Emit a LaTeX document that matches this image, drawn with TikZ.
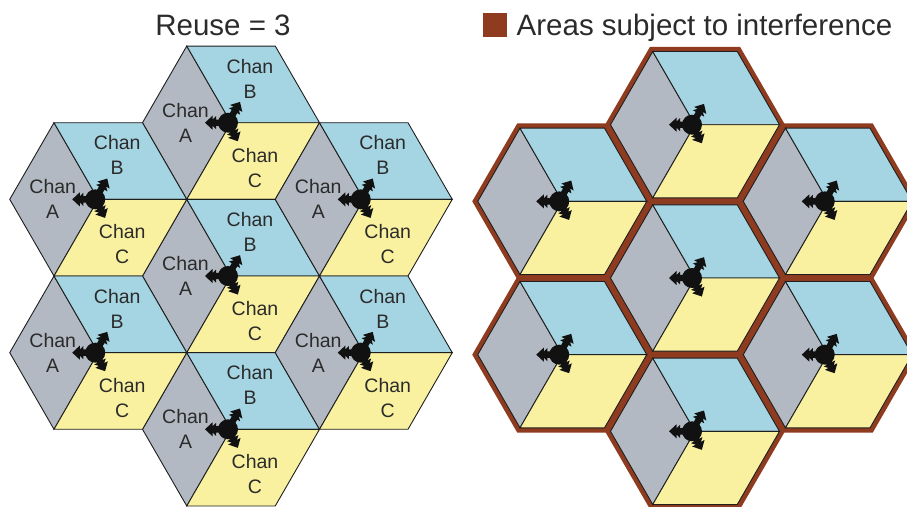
\documentclass[tikz,border=0pt]{standalone}
\usepackage{fontspec}
\setmainfont{Liberation Sans}
\usetikzlibrary{arrows.meta}
\definecolor{cgray}{HTML}{B3B9C2}
\definecolor{cblue}{HTML}{A5D4E2}
\definecolor{cyellow}{HTML}{F9F1A0}
\definecolor{cbrown}{HTML}{8E3B1F}
\definecolor{ctext}{HTML}{2B2B2B}
\definecolor{cline}{HTML}{1E1E1E}
\definecolor{cant}{HTML}{111111}

\newcommand{\hexcell}[3]{%
  \pgfmathsetmacro{\hh}{#3*0.8660254}%
  \pgfmathsetmacro{\hr}{#3/2}%
  \filldraw[cellline, fill=cgray] (#1,#2) -- ++(-\hr,-\hh) -- ++(-\hr,\hh) -- ++(\hr,\hh) -- cycle;
  \filldraw[cellline, fill=cblue] (#1,#2) -- ++(#3,0) -- ++(-\hr,-\hh) -- ++(-#3,0) -- cycle;
  \filldraw[cellline, fill=cyellow] (#1,#2) -- ++(-\hr,\hh) -- ++(#3,0) -- ++(\hr,-\hh) -- cycle;
}
\newcommand{\brownhex}[2]{%
  \filldraw[cbrown, line width=2.6pt, line join=miter] (#1,#2) ++(-88.5,0) -- ++(44.25,-76.64) -- ++(88.5,0) -- ++(44.25,76.64) -- ++(-44.25,76.64) -- ++(-88.5,0) -- cycle;
}
% antenna: a dot with three double-barbed arrows, drawn as filled shapes
\newcommand{\antenna}[3]{%
  \node[antdot] (#1) at (#2,#3) {};
  \foreach \ang/\len in {180/23, 60/24, -62/21}{
    \fill[cant, shift={(#1.center)}, rotate=\ang]
      (0,-3.2) rectangle (\len-6,3.2)
      (\len,0) -- (\len-7.5,-7) -- (\len-7.5,7) -- cycle
      (\len-4.5,0) -- (\len-11,-6.5) -- (\len-11,6.5) -- cycle;
  }
}

\tikzset{
  cellline/.style={draw=cline, line width=0.9pt, line join=miter},
  antdot/.style={circle, fill=cant, minimum size=20pt, inner sep=0pt},
  lbl/.style={font=\fontsize{19.5}{25}\selectfont, align=center, text=ctext, inner sep=0pt},
  titletext/.style={font=\fontsize{29.5}{32}\selectfont, text=ctext, inner sep=0pt},
}

\begin{document}
\begin{tikzpicture}[x=1pt,y=-1pt]
\useasboundingbox (0,0) rectangle (907,506);
\clip (0,0) rectangle (907,506);

% ---------- left cluster (Reuse = 3) ----------
\foreach \cx/\cy/\n in {231/122.7/a, 231/276/b, 231/429.3/c, 98.25/199.35/d, 98.25/352.65/e, 363.75/199.35/f, 363.75/352.65/g}{
  \hexcell{\cx}{\cy}{88.5}
  \antenna{antL-\n}{\cx-3}{\cy}
  \node[lbl] (labA-\n) at (\cx-45.5,\cy) {Chan\\A};
  \node[lbl] (labB-\n) at (\cx+19,\cy-44) {Chan\\B};
  \node[lbl] (labC-\n) at (\cx+24,\cy+45) {Chan\\C};
}

% ---------- right cluster (interference) ----------
\foreach \cx/\cy in {695/124.7, 695/278, 695/431.3, 562.25/201.35, 562.25/354.65, 827.75/201.35, 827.75/354.65}{
  \brownhex{\cx}{\cy}
}
\foreach \cx/\cy/\n in {695/124.7/a, 695/278/b, 695/431.3/c, 562.25/201.35/d, 562.25/354.65/e, 827.75/201.35/f, 827.75/354.65/g}{
  \hexcell{\cx}{\cy}{84.5}
  \antenna{antR-\n}{\cx-3}{\cy}
}

% ---------- titles ----------
\node[titletext, anchor=base] (title) at (223,35) {Reuse = 3};
\node[fill=cbrown, minimum width=24pt, minimum height=23.4pt, inner sep=0pt] (legbox) at (494.7,25) {};
\node[titletext, anchor=base west] (legtext) at (516.5,35) {Areas subject to interference};
\end{tikzpicture}
\end{document}
